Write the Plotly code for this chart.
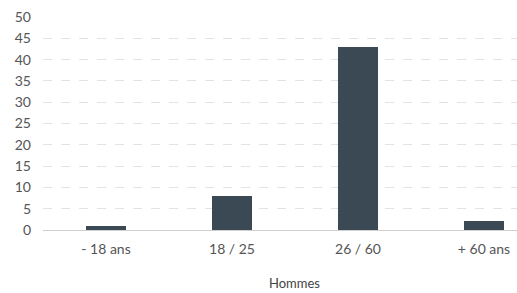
import plotly.graph_objects as go

categories = ["- 18 ans", "18 / 25", "26 / 60", "+ 60 ans"]
values = [1, 8, 43, 2]
y_ticks = [0, 5, 10, 15, 20, 25, 30, 35, 40, 45, 50]
x_title = "Hommes"

fig = go.Figure(go.Bar(
    x=list(range(len(categories))), y=values,
    marker=dict(color="#3b4954", line=dict(width=0)),
    width=0.32,
))

fig.update_layout(
    width=517, height=293,
    margin=dict(l=43, r=0, t=17, b=63),
    paper_bgcolor="white", plot_bgcolor="white",
    font=dict(family="Lato, Liberation Sans, sans-serif", size=14, color="#555555"),
    showlegend=False,
    bargap=0,
)
fig.update_xaxes(
    range=[-0.5, 3.262],
    tickmode="array", tickvals=list(range(len(categories))), ticktext=categories,
    showgrid=False, zeroline=False, showline=False,
    ticks="", ticklabelstandoff=9,
    tickfont=dict(size=14, color="#555555"),
)
fig.update_yaxes(
    range=[0, 50],
    tickmode="array", tickvals=y_ticks,
    showgrid=True, gridcolor="#e3e3e3", gridwidth=1, griddash="dash",
    zeroline=True, zerolinecolor="#cfcfcf", zerolinewidth=1,
    ticks="", ticklabelstandoff=11,
    tickfont=dict(size=14, color="#555555"),
)
fig.add_annotation(
    text=x_title, xref="x", x=1.5, yref="paper", y=-0.249,
    showarrow=False, yanchor="middle",
    font=dict(size=13, color="#444444"),
)
fig.write_html(
    "out.html",
    config={"displayModeBar": False},
    post_script="document.body.style.margin='0';document.body.style.overflow='hidden';",
)
